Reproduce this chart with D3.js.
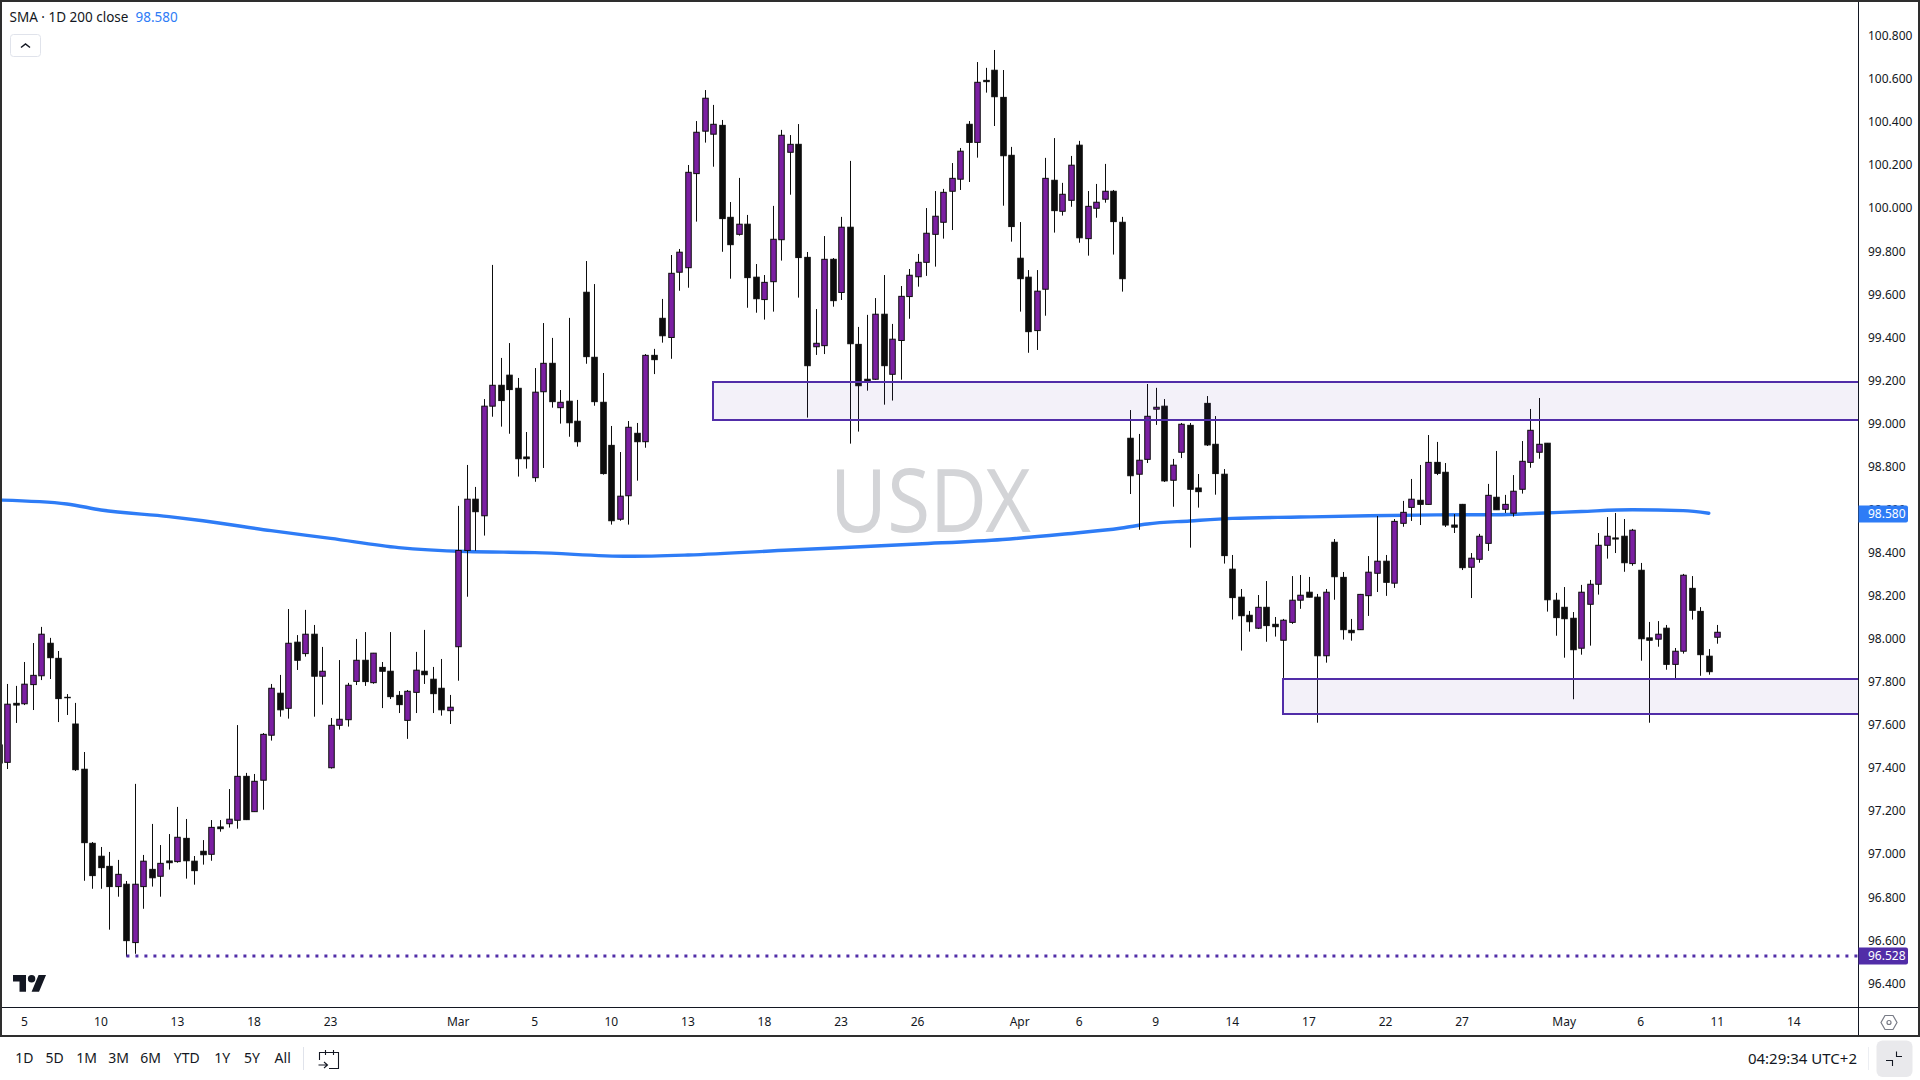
<!DOCTYPE html>
<html>
<head>
<meta charset="utf-8">
<title>USDX</title>
<script src="https://cdn.jsdelivr.net/npm/d3@7"></script>
<style>
  html, body { margin: 0; padding: 0; background: #fff; }
  svg { display: block; }
  text { font-family: "Noto Sans", sans-serif; fill: #131722; }
</style>
</head>
<body>
<svg id="chart" width="1920" height="1080"></svg>
<script>
const highs = [
  97.554,97.791,97.782,97.893,97.981,98.056,98.005,97.944,97.744,97.703,
  97.475,97.057,97.034,97.011,96.974,96.876,97.327,96.997,97.141,97.043,
  97.094,97.220,97.164,96.992,97.066,97.159,97.159,97.303,97.600,97.378,
  97.373,97.563,97.791,97.833,98.139,98.018,98.135,98.065,97.963,97.633,
  97.902,97.796,98.000,98.032,97.935,97.893,98.032,97.758,97.763,97.940,
  98.042,97.870,97.907,97.740,98.618,98.808,98.706,99.114,99.737,99.305,
  99.374,99.212,98.961,99.258,99.467,99.398,99.156,99.491,99.110,99.755,
  99.648,99.235,98.989,98.868,99.012,99.003,99.323,99.347,99.579,99.783,
  99.811,100.201,100.405,100.549,100.480,100.410,100.029,100.141,99.969,99.741,
  99.690,100.011,100.364,100.340,100.391,99.797,99.532,99.871,99.769,99.960,
  100.220,99.449,99.505,99.583,99.690,99.463,99.639,99.718,99.788,100.001,
  100.080,100.090,100.210,100.280,100.405,100.679,100.652,100.735,100.642,100.285,
  99.936,99.713,99.713,100.234,100.326,100.118,100.243,100.313,100.080,100.113,
  100.206,100.085,99.960,99.063,98.952,99.184,99.166,99.114,98.836,99.003,
  99.003,98.766,99.128,99.035,98.789,98.390,98.232,98.130,98.204,98.269,
  98.102,98.093,98.292,98.297,98.288,98.209,98.232,98.464,98.311,98.093,
  98.209,98.385,98.571,98.390,98.557,98.641,98.743,98.808,98.947,98.915,
  98.817,98.580,98.627,98.399,98.488,98.720,98.873,98.669,98.761,98.919,
  99.068,99.119,98.910,98.214,98.241,98.125,98.251,98.274,98.492,98.566,
  98.585,98.557,98.511,98.353,98.079,98.083,98.065,97.958,98.302,98.292,98.148,97.953,98.065
];
const lows = [
  97.392,97.396,97.610,97.693,97.670,97.809,97.814,97.614,97.647,97.387,
  96.877,96.840,96.840,96.650,96.803,96.525,96.538,96.747,96.850,96.803,
  96.929,96.961,96.887,96.859,96.952,96.970,97.105,97.124,97.119,97.159,
  97.197,97.207,97.528,97.639,97.630,97.856,97.918,97.639,97.695,97.398,
  97.579,97.593,97.786,97.782,97.792,97.679,97.721,97.656,97.536,97.656,
  97.791,97.656,97.644,97.605,97.806,98.196,98.410,98.480,99.032,98.986,
  98.953,98.754,98.791,98.730,98.794,99.074,99.000,98.939,98.893,99.278,
  99.083,98.763,98.531,98.549,98.531,98.735,98.888,99.230,99.376,99.301,
  99.617,99.631,99.938,100.305,100.193,99.798,99.673,99.873,99.538,99.515,
  99.483,99.520,99.757,100.063,99.585,99.028,99.319,99.323,99.543,99.574,
  98.907,98.963,99.153,99.203,99.088,99.107,99.204,99.487,99.636,99.686,
  99.729,99.859,99.899,100.085,100.122,100.235,100.537,100.382,100.012,99.845,
  99.520,99.329,99.342,99.501,99.887,99.966,100.007,99.840,99.780,99.956,
  100.026,99.785,99.613,98.673,98.507,98.817,98.994,98.729,98.614,98.840,
  98.424,98.610,98.896,98.670,98.350,98.090,97.946,98.034,98.046,97.987,
  98.011,97.819,98.070,98.140,98.193,97.611,97.890,98.182,97.997,97.992,
  98.042,98.107,98.218,98.200,98.237,98.521,98.548,98.529,98.624,98.761,
  98.520,98.492,98.320,98.190,98.354,98.409,98.599,98.585,98.568,98.675,
  98.795,98.837,98.127,98.015,97.913,97.720,97.927,97.969,98.206,98.373,
  98.399,98.312,98.340,97.899,97.611,97.964,97.857,97.811,97.932,98.090,97.829,97.834,97.978
];
const opens = [
  97.508,97.427,97.701,97.699,97.788,97.829,97.980,97.910,97.729,97.605,
  97.395,97.051,96.991,96.944,96.850,96.861,96.590,96.850,96.930,96.898,
  96.969,96.966,97.074,96.968,97.014,97.000,97.127,97.142,97.158,97.362,
  97.198,97.344,97.553,97.748,97.678,97.985,97.932,98.022,97.827,97.402,
  97.599,97.625,97.803,97.901,97.797,97.868,97.850,97.738,97.622,97.752,
  97.850,97.813,97.771,97.667,97.964,98.411,98.649,98.572,99.081,99.178,
  99.225,99.164,98.845,98.749,99.148,99.280,99.074,99.104,99.011,99.610,
  99.308,99.099,98.899,98.556,98.665,98.955,98.916,99.317,99.489,99.400,
  99.703,99.724,100.161,100.358,100.344,100.385,99.958,99.879,99.926,99.680,
  99.576,99.659,99.854,100.260,100.297,99.772,99.357,99.362,99.763,99.609,
  99.912,99.368,99.206,99.206,99.508,99.229,99.386,99.590,99.682,99.749,
  99.879,99.935,100.079,100.135,100.390,100.306,100.594,100.641,100.515,100.246,
  99.768,99.680,99.432,99.624,100.130,99.986,100.037,100.293,99.859,100.000,
  100.042,100.079,99.935,98.932,98.765,98.834,99.067,99.081,98.737,98.867,
  98.992,98.701,99.094,98.904,98.765,98.324,98.194,98.110,98.050,98.147,
  98.068,97.994,98.077,98.180,98.217,98.194,97.922,98.449,98.286,98.040,
  98.043,98.201,98.305,98.361,98.259,98.537,98.611,98.644,98.625,98.820,
  98.774,98.529,98.625,98.333,98.370,98.444,98.658,98.602,98.584,98.695,
  98.820,98.867,98.909,98.180,98.147,98.096,97.957,98.161,98.254,98.435,
  98.469,98.477,98.350,98.319,98.005,97.999,98.050,97.882,97.943,98.235,98.128,97.920,98.008
];
const closes = [
  97.424,97.697,97.693,97.790,97.831,98.022,97.913,97.723,97.727,97.393,
  97.054,96.901,96.938,96.850,96.907,96.599,96.861,96.968,96.891,96.958,
  96.961,97.079,96.970,96.924,96.998,97.125,97.119,97.163,97.362,97.161,
  97.339,97.557,97.771,97.671,97.980,97.901,98.022,97.827,97.850,97.599,
  97.627,97.785,97.901,97.802,97.934,97.850,97.732,97.695,97.757,97.855,
  97.834,97.746,97.671,97.683,98.411,98.649,98.591,99.081,99.178,99.107,
  99.158,98.837,98.837,99.146,99.280,99.102,99.099,99.004,98.916,99.311,
  99.102,98.768,98.549,98.663,98.983,98.916,99.317,99.297,99.408,99.698,
  99.796,100.167,100.353,100.511,100.390,99.952,99.831,99.926,99.678,99.580,
  99.656,99.856,100.339,100.297,99.771,99.269,99.373,99.763,99.571,99.912,
  99.371,99.176,99.198,99.508,99.269,99.392,99.591,99.689,99.749,99.884,
  99.963,100.074,100.139,100.265,100.306,100.585,100.588,100.518,100.244,99.915,
  99.673,99.427,99.615,100.139,99.989,100.065,100.200,99.863,100.009,100.028,
  100.079,99.938,99.673,98.758,98.830,99.034,99.076,98.734,98.807,98.997,
  98.695,98.684,98.901,98.768,98.387,98.192,98.108,98.080,98.147,98.062,
  98.057,98.087,98.180,98.203,98.194,97.922,98.217,98.289,98.043,98.029,
  98.207,98.310,98.361,98.263,98.546,98.588,98.649,98.625,98.820,98.769,
  98.529,98.519,98.331,98.375,98.477,98.667,98.600,98.625,98.686,98.825,
  98.969,98.904,98.182,98.099,98.094,97.950,98.217,98.254,98.435,98.477,
  98.464,98.354,98.505,98.001,97.994,98.022,97.882,97.943,98.296,98.133,97.927,97.848,98.031
];

// 200 period SMA, read at these bars
const smaBars = [0,8,12,20,24,32,39,47,55,63,74,81,93,108,118,125,132,135,140,145,153,161,169,176,181,186,192,198,201];
const smaValues = [98.645,98.627,98.599,98.568,98.549,98.503,98.467,98.424,98.406,98.401,98.384,98.390,98.413,98.441,98.462,98.486,98.515,98.534,98.548,98.560,98.566,98.572,98.576,98.577,98.584,98.592,98.600,98.596,98.584];

const priceTicks = d3.range(0, 23).map(i => 96.4 + i * 0.2);
const timeLabels = ["5","10","13","18","23","Mar","5","10","13","18","23","26","Apr","6","9","14","17","22","27","May","6","11","14"];
const timeBars = [3,12,21,30,39,54,63,72,81,90,99,108,120,127,136,145,154,163,172,184,193,202,211];
const rangeButtons = ["1D","5D","1M","3M","6M","YTD","1Y","5Y","All"];

// [first bar, top price, bottom price]
const zoneBars = [84, 151];
const zoneTops = [99.191, 97.812];
const zoneBottoms = [99.015, 97.651];
const lowLineBar = 15;
const lowLinePrice = 96.528;
const smaLast = 98.580;

const candles = opens.map((o, i) => ({ i, o, h: highs[i], l: lows[i], c: closes[i] }));

const plotRight = 1858.5, plotBottom = 1007.5;
const purple = "#512da8", blue = "#2e7cf6";

const x = d3.scaleLinear().domain([0, 202]).range([-1.2, 1717.3]);
const y = d3.scaleLinear().domain([96.4, 100.8]).range([983.5, 36]);

const svg = d3.select("#chart");

svg.append("defs").append("clipPath").attr("id", "plot")
  .append("rect").attr("x", 2).attr("y", 2).attr("width", plotRight - 2).attr("height", plotBottom - 2);

const plot = svg.append("g").attr("clip-path", "url(#plot)");

plot.append("text")
  .attr("x", 930.6).attr("y", 532)
  .attr("text-anchor", "middle")
  .attr("font-size", 87)
  .attr("textLength", 201)
  .attr("lengthAdjust", "spacingAndGlyphs")
  .style("fill", "#d3d4d7")
  .text("USDX");

const sma = d3.line()
  .x((d, i) => x(smaBars[i]))
  .y(d => y(d))
  .curve(d3.curveMonotoneX);

plot.append("path")
  .attr("d", sma(smaValues))
  .attr("fill", "none")
  .attr("stroke", blue)
  .attr("stroke-width", 3.4)
  .attr("stroke-linecap", "round");

const bars = plot.append("g").selectAll("g").data(candles).enter().append("g");

bars.append("line")
  .attr("x1", d => Math.round(x(d.i)) + 0.5)
  .attr("x2", d => Math.round(x(d.i)) + 0.5)
  .attr("y1", d => y(d.h))
  .attr("y2", d => y(d.l))
  .attr("stroke", "#0d0d0d")
  .attr("stroke-width", 1);

bars.append("rect")
  .attr("x", d => Math.round(x(d.i)) + 0.5 - 2.75)
  .attr("width", 5.5)
  .attr("y", d => y(Math.max(d.o, d.c)))
  .attr("height", d => Math.abs(y(d.o) - y(d.c)))
  .attr("fill", d => d.c > d.o ? "#7b1fa2" : "#0d0d0d")
  .attr("stroke", "#0d0d0d")
  .attr("stroke-width", 1);

zoneBars.forEach((b, i) => {
  const top = Math.round(y(zoneTops[i]));
  const bottom = Math.round(y(zoneBottoms[i]));
  plot.append("rect")
    .attr("x", Math.round(x(b)))
    .attr("y", top)
    .attr("width", plotRight + 10 - Math.round(x(b)))
    .attr("height", bottom - top)
    .attr("fill", purple)
    .attr("fill-opacity", 0.065)
    .attr("stroke", purple)
    .attr("stroke-width", 2);
});

plot.append("line")
  .attr("x1", x(lowLineBar)).attr("x2", plotRight)
  .attr("y1", Math.round(y(lowLinePrice))).attr("y2", Math.round(y(lowLinePrice)))
  .attr("stroke", purple)
  .attr("stroke-width", 3)
  .attr("stroke-dasharray", "3 6");

// frame and axis lines
svg.append("rect").attr("x", 0).attr("y", 1037).attr("width", 1920).attr("height", 43).attr("fill", "#fff");
svg.append("line").attr("x1", plotRight).attr("x2", plotRight).attr("y1", 2).attr("y2", 1035).attr("stroke", "#131722");
svg.append("line").attr("x1", 2).attr("x2", 1918).attr("y1", plotBottom).attr("y2", plotBottom).attr("stroke", "#131722");
svg.append("path")
  .attr("d", "M1,1036V1H1919V1036Z")
  .attr("fill", "none").attr("stroke", "#2e2e2e").attr("stroke-width", 2);

// price axis
svg.append("g").selectAll("text").data(priceTicks).enter().append("text")
  .attr("x", 1868).attr("y", d => y(d))
  .attr("dy", "0.35em")
  .attr("font-size", 12)
  .text(d => d.toFixed(3));

function priceLabel(value, color) {
  const yy = y(value);
  svg.append("path")
    .attr("d", `M${plotRight},${yy - 8.5}H1906a2,2 0 0 1 2,2V${yy + 6.5}a2,2 0 0 1 -2,2H${plotRight}Z`)
    .attr("fill", color);
  svg.append("text")
    .attr("x", 1868).attr("y", yy).attr("dy", "0.35em")
    .attr("font-size", 12)
    .style("fill", "#fff")
    .text(value.toFixed(3));
}
priceLabel(smaLast, blue);
priceLabel(lowLinePrice, purple);

// time axis
svg.append("g").selectAll("text").data(timeLabels).enter().append("text")
  .attr("x", (d, i) => x(timeBars[i]))
  .attr("y", 1021.5)
  .attr("dy", "0.35em")
  .attr("text-anchor", "middle")
  .attr("font-size", 12)
  .text(d => d);

// legend
svg.append("text").attr("x", 9.5).attr("y", 17).attr("dy", "0.35em").attr("font-size", 13.5).text("SMA · 1D 200 close");
svg.append("text").attr("x", 135.5).attr("y", 17).attr("dy", "0.35em").attr("font-size", 13.5).style("fill", blue).text(smaLast.toFixed(3));
svg.append("rect").attr("x", 10.5).attr("y", 34.5).attr("width", 30).attr("height", 22).attr("rx", 3)
  .attr("fill", "#fff").attr("stroke", "#e0e3eb");
svg.append("path").attr("d", "M21,47.5l4.5,-3.5l4.5,3.5").attr("fill", "none").attr("stroke", "#131722").attr("stroke-width", 1.5);

// TradingView mark
const logo = svg.append("g").attr("transform", "translate(13,971.3) scale(.93)").attr("fill", "#131722");
logo.append("path").attr("d", "M14 22H7V11H0V4h14v18zM28 22h-8l7.5-18h8L28 22z");
logo.append("circle").attr("cx", 20).attr("cy", 8).attr("r", 4);

// settings hexagon
svg.append("path").attr("d", "M1881,1022.5l4,-7h8l4,7l-4,7h-8Z").attr("fill", "none").attr("stroke", "#787b86").attr("stroke-width", 1.2);
svg.append("circle").attr("cx", 1889).attr("cy", 1022.5).attr("r", 2).attr("fill", "none").attr("stroke", "#787b86").attr("stroke-width", 1.2);

// bottom toolbar
const buttonX = [24.3, 54.7, 86.7, 118.7, 150.7, 186.7, 222.3, 252, 282.7];
svg.append("g").selectAll("text").data(rangeButtons).enter().append("text")
  .attr("x", (d, i) => buttonX[i])
  .attr("y", 1058.5)
  .attr("dy", "0.35em")
  .attr("text-anchor", "middle")
  .attr("font-size", 14)
  .text(d => d);

svg.append("line").attr("x1", 303.5).attr("x2", 303.5).attr("y1", 1047).attr("y2", 1070).attr("stroke", "#e0e3eb");
svg.append("path")
  .attr("d", "M319.5,1060V1052.5H338.5V1068.5H329M325.5,1050V1055M333.5,1050V1055M318.5,1065H327M324,1062l3.5,3l-3.5,3")
  .attr("fill", "none").attr("stroke", "#131722").attr("stroke-width", 1.1);

svg.append("text").attr("x", 1857).attr("y", 1058.5).attr("dy", "0.35em").attr("text-anchor", "end").attr("font-size", 15).text("04:29:34 UTC+2");
svg.append("line").attr("x1", 1868.5).attr("x2", 1868.5).attr("y1", 1047).attr("y2", 1070).attr("stroke", "#eceef2");
svg.append("rect").attr("x", 1876.5).attr("y", 1040.5).attr("width", 36).attr("height", 36.5).attr("rx", 6).attr("fill", "#e9e9ec");
svg.append("path").attr("d", "M1896.5,1051.5V1056.5H1902M1886,1060.5H1892.5V1066").attr("fill", "none").attr("stroke", "#131722").attr("stroke-width", 1.1);
</script>
</body>
</html>
